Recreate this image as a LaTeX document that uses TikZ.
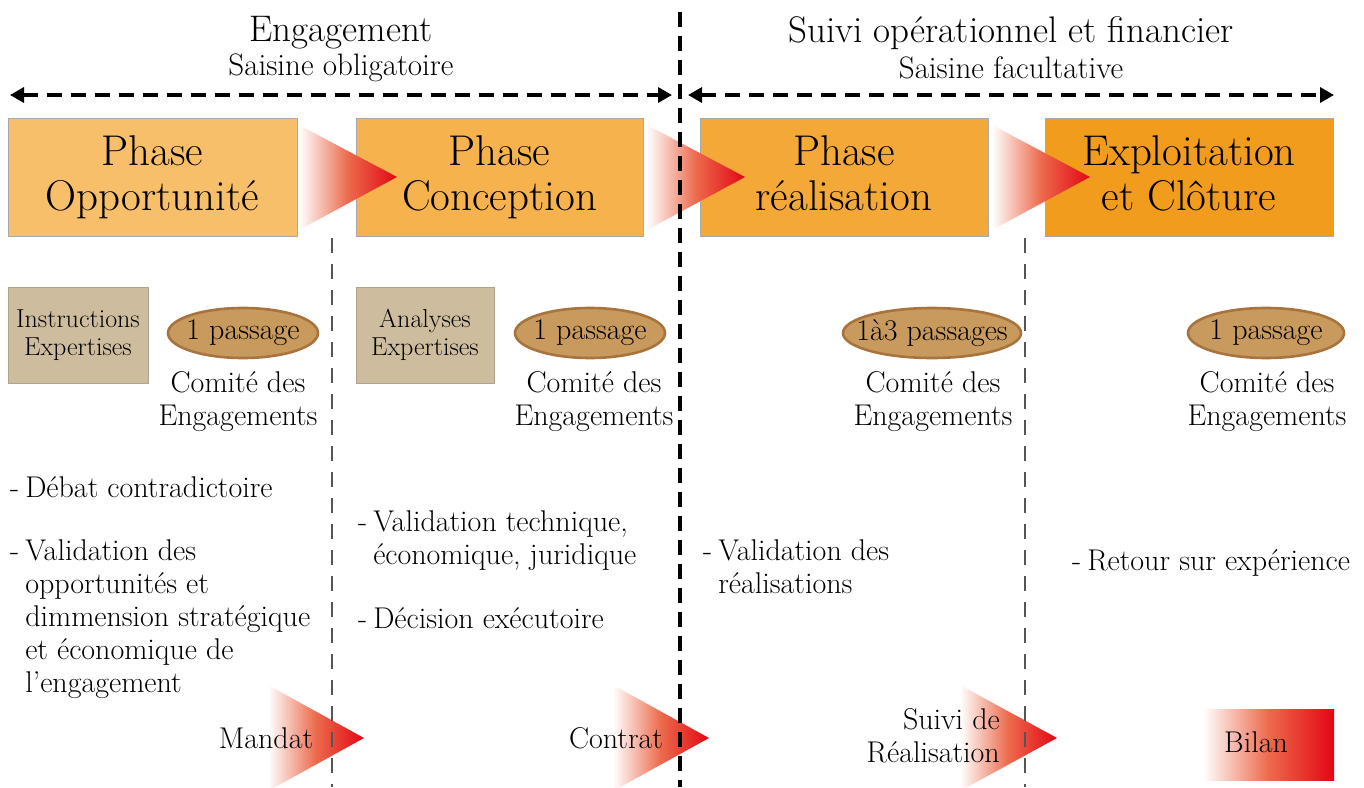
\documentclass[tikz,border=0pt]{standalone}
\usetikzlibrary{arrows.meta,shapes.geometric}
\definecolor{phA}{HTML}{F8BF6A}
\definecolor{phB}{HTML}{F6B24C}
\definecolor{phC}{HTML}{F4A838}
\definecolor{phD}{HTML}{F29C1E}
\definecolor{boxline}{HTML}{A8A8A8}
\definecolor{tanfill}{HTML}{CDBC9E}
\definecolor{tanline}{HTML}{B0A48C}
\definecolor{ellfill}{HTML}{C99A5E}
\definecolor{ellline}{HTML}{A8733C}
\definecolor{gradL}{HTML}{FFFFFF}
\definecolor{gradM}{HTML}{EC6A4C}
\definecolor{gradR}{HTML}{E30613}
\definecolor{grayline}{HTML}{555555}
\newcommand\myfs[2]{\fontsize{#1}{#2}\selectfont}
\begin{document}
\begin{tikzpicture}[x=1pt,y=-1pt,
  phase/.style={draw=boxline, line width=1pt, minimum width=288pt, minimum height=118pt, inner sep=0pt, align=center, font=\myfs{43}{45}},
  tanbox/.style={draw=tanline, line width=1pt, fill=tanfill, minimum width=140pt, minimum height=96pt, inner sep=0pt, align=center, font=\myfs{26}{28}},
  pass/.style={ellipse, draw=ellline, line width=2.6pt, fill=ellfill, minimum height=50pt, inner sep=0pt},
  comite/.style={align=center, inner sep=0pt, font=\myfs{30}{33}},
  btxt/.style={anchor=base west, inner sep=0pt, font=\myfs{30}{33}},
  lbl/.style={inner sep=0pt, font=\myfs{30}{33}},
  grad/.style={left color=gradL, right color=gradR, middle color=gradM},
  darrow/.style={line width=3.2pt, dash pattern=on 15pt off 9pt, {Triangle[length=14pt,width=15pt]}-{Triangle[length=14pt,width=15pt]}},
  blackdash/.style={line width=3.4pt, dash pattern=on 15pt off 9pt},
  graydash/.style={draw=grayline, line width=2.4pt, dash pattern=on 15pt off 11pt}
]
\useasboundingbox (0,0) rectangle (1364,787);
\fill[white] (0,0) rectangle (1364,787);

% headers
\node[inner sep=0pt, font=\myfs{37}{40}] (h1) at (341,33) {Engagement};
\node[inner sep=0pt, font=\myfs{31}{33}] (h1s) at (341,68) {Saisine obligatoire};
\node[inner sep=0pt, font=\myfs{37}{40}] (h2) at (1011,33) {Suivi opérationnel et financier};
\node[inner sep=0pt, font=\myfs{31}{33}] (h2s) at (1011,68) {Saisine facultative};

% double arrows
\coordinate (a1l) at (10,95);
\coordinate (a1r) at (672,95);
\coordinate (a2l) at (688,95);
\coordinate (a2r) at (1334,95);
\draw[darrow] (a1l) -- (a1r);
\draw[darrow] (a2l) -- (a2r);

% phase boxes
\node[phase, fill=phA, minimum width=289pt] (p1) at (152.5,177) {Phase\\Opportunité};
\node[phase, fill=phB, minimum width=287pt] (p2) at (499.5,177) {Phase\\Conception};
\node[phase, fill=phC] (p3) at (844,177) {Phase\\réalisation\vphantom{p}};
\node[phase, fill=phD] (p4) at (1189,177) {Exploitation\\et Clôture\vphantom{p}};

% gradient triangles between phases
\shade[grad] (299,125) -- (397,177) -- (299,230) -- cycle;
\shade[grad] (647,125) -- (745,177) -- (647,230) -- cycle;
\shade[grad] (992,125) -- (1090,177) -- (992,230) -- cycle;

% tan boxes
\node[tanbox] (t1) at (78,335) {Instructions\\Expertises};
\node[tanbox, minimum width=138pt] (t2) at (425,335) {Analyses\\Expertises};

% ellipses
\node[pass, minimum width=150pt] (e1) at (243,333) {};
\node[pass, minimum width=150pt] (e2) at (590,333) {};
\node[pass, minimum width=178pt] (e3) at (932,333) {};
\node[pass, minimum width=156pt] (e4) at (1266,333) {};
\node[lbl] (e1t) at (e1) {1 passage};
\node[lbl] (e2t) at (e2) {1 passage};
\node[lbl] (e3t) at (e3) {1à3 passages};
\node[lbl] (e4t) at (e4) {1 passage};

% comite labels
\node[comite] (c1) at (238,402) {Comité des\\Engagements};
\node[comite] (c2) at (594,402) {Comité des\\Engagements};
\node[comite] (c3) at (933,402) {Comité des\\Engagements};
\node[comite] (c4) at (1267,402) {Comité des\\Engagements};

% bullet texts
\node[btxt] (b1) at (10,497) {\begin{tabular}[t]{@{}l@{\hspace{6pt}}l@{}}-&Débat contradictoire\end{tabular}};
\node[btxt] (b2) at (10,560) {\begin{tabular}[t]{@{}l@{\hspace{6pt}}l@{}}-&Validation des\\&opportunités et\\&dimmension stratégique\\&et économique de\\&l’engagement\end{tabular}};
\node[btxt] (b3) at (358,531) {\begin{tabular}[t]{@{}l@{\hspace{6pt}}l@{}}-&Validation technique,\\&économique, juridique\end{tabular}};
\node[btxt] (b4) at (358,628) {\begin{tabular}[t]{@{}l@{\hspace{6pt}}l@{}}-&Décision exécutoire\end{tabular}};
\node[btxt] (b5) at (703,560) {\begin{tabular}[t]{@{}l@{\hspace{6pt}}l@{}}-&Validation des\\&réalisations\end{tabular}};
\node[btxt] (b6) at (1072,570) {\begin{tabular}[t]{@{}l@{\hspace{6pt}}l@{}}-&Retour sur expérience\end{tabular}};

% bottom milestones
\shade[grad] (268,685) -- (364,738) -- (268,791) -- cycle;
\shade[grad] (613,685) -- (709,738) -- (613,791) -- cycle;
\shade[grad] (960,685) -- (1057,738) -- (960,791) -- cycle;
\shade[grad] (1203,709) rectangle (1334,780);

% dashed separators
\coordinate (v0t) at (680,12);
\coordinate (v0b) at (680,787);
\coordinate (v1t) at (332,238);
\coordinate (v1b) at (332,787);
\coordinate (v2t) at (1025,238);
\coordinate (v2b) at (1025,787);
\draw[blackdash] (v0t) -- (v0b);
\draw[graydash] (v1t) -- (v1b);
\draw[graydash] (v2t) -- (v2b);

% milestone labels
\node[lbl] (m1) at (266,738) {Mandat};
\node[lbl] (m2) at (616,738) {Contrat};
\node[lbl, anchor=east, align=right] (m3) at (1000,736) {Suivi de\\Réalisation};
\node[lbl] (m4) at (1256,742) {Bilan};
\end{tikzpicture}
\end{document}
